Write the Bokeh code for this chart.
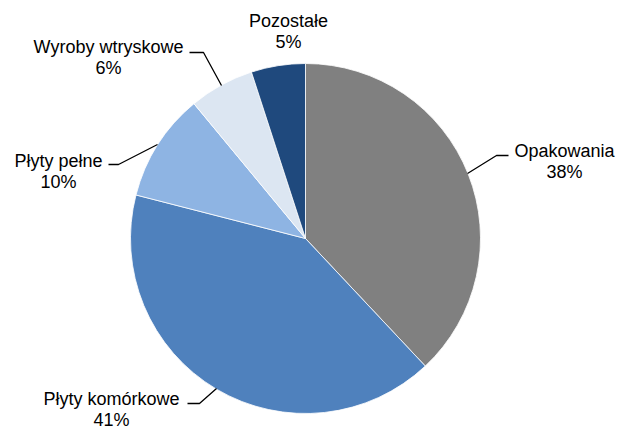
import numpy as np
from bokeh.plotting import figure
from bokeh.models import Range1d, ColumnDataSource
from bokeh.core.properties import value
from bokeh.embed import file_html
from bokeh.resources import INLINE

# data
categories = ["Opakowania", "Płyty komórkowe", "Płyty pełne", "Wyroby wtryskowe", "Pozostałe"]
shares = [38, 41, 10, 6, 5]
colors = ["#808080", "#4F81BD", "#8EB4E3", "#DCE6F2", "#1F497D"]

# layout (picture pixel coordinates, y measured from top)
W, H = 617, 428
cx, cy, r = 305, 238, 175
label_pos = [(564, 150), (111, 398), (58, 160), (108, 46), (288, 20)]
leaders = [
    [(467, 173), (496, 155), (508, 155)],
    [(216, 388), (199, 403), (187, 403)],
    [(157, 144), (118, 164), (108, 164)],
    [(221, 85), (203, 52), (189, 52)],
    None,
]

def Y(y):
    return H - y

p = figure(width=W, height=H, output_backend="svg", toolbar_location=None,
           x_range=Range1d(0, W), y_range=Range1d(0, H),
           min_border=0, outline_line_color=None)
p.axis.visible = False
p.grid.visible = False
p.background_fill_color = "white"
p.border_fill_color = "white"

total = float(sum(shares))
frac = np.array(shares) / total
ends = np.pi / 2 - 2 * np.pi * np.cumsum(frac)
starts = np.concatenate([[np.pi / 2], ends[:-1]])

src = ColumnDataSource(dict(start=starts, end=ends, color=colors))
p.wedge(x=cx, y=Y(cy), radius=r, start_angle="start", end_angle="end",
        direction="clock", fill_color="color", line_color="white", line_width=0.8,
        source=src)

for seg in leaders:
    if seg is None:
        continue
    p.line([s[0] for s in seg], [Y(s[1]) for s in seg], line_color="black", line_width=1.3)

names_x = [lp[0] for lp in label_pos]
names_y = [Y(lp[1]) for lp in label_pos]
pct_y = [Y(lp[1] + 21) for lp in label_pos]
pct = [f"{round(f * 100):.0f}%" for f in frac]

p.text(x=names_x, y=names_y, text=categories, text_align="center", text_baseline="middle",
       text_font=value("Liberation Sans"), text_font_size="18px", text_color="black")
p.text(x=names_x, y=pct_y, text=pct, text_align="center", text_baseline="middle",
       text_font=value("Liberation Sans"), text_font_size="18px", text_color="black")

open("out.html", "w").write(file_html(p, INLINE))
